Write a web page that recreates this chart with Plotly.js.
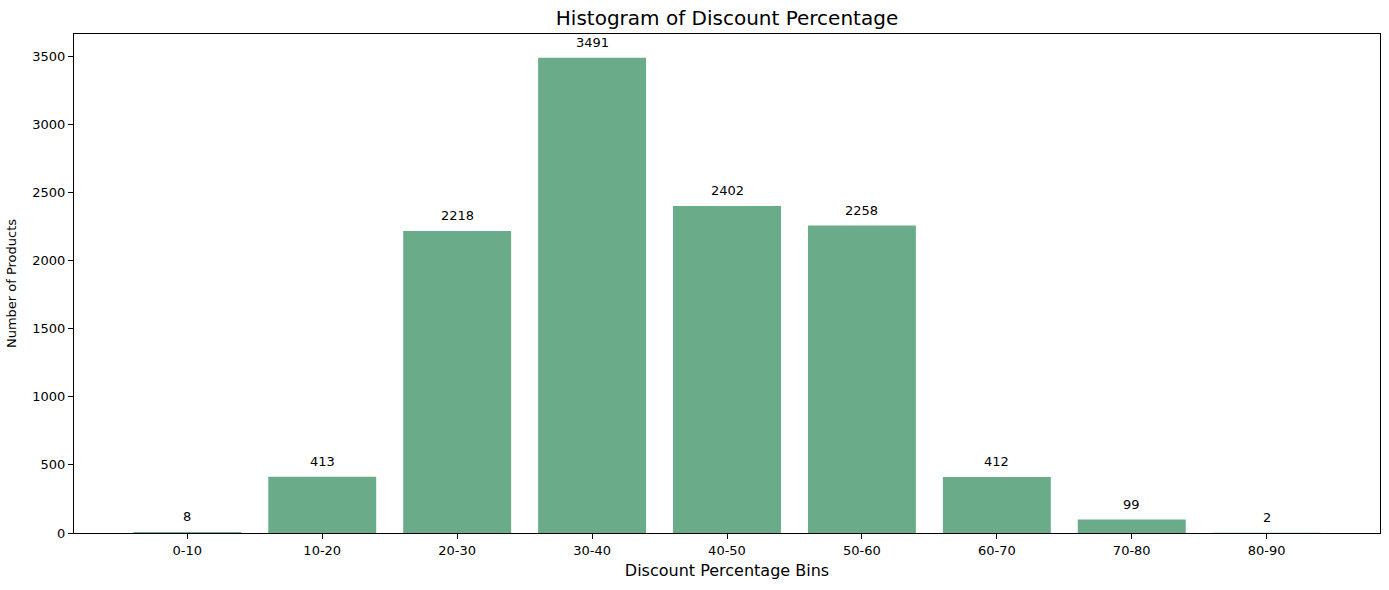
<!DOCTYPE html>
<html>
<head>
<meta charset="utf-8">
<script src="https://cdn.plot.ly/plotly-3.0.1.min.js"></script>
<style>
  html, body { margin: 0; padding: 0; background: #fff; }
  #chart { width: 1389px; height: 590px; }
</style>
</head>
<body>
<div id="chart"></div>
<script>
let bins = ['0-10', '10-20', '20-30', '30-40', '40-50', '50-60', '60-70', '70-80', '80-90'];
let counts = [8, 413, 2218, 3491, 2402, 2258, 412, 99, 2];

let barColor = 'rgb(106,172,138)';
let font = 'DejaVu Sans, sans-serif';

let barData = {
    x: bins,
    y: counts,
    type: 'bar',
    width: 0.8,
    marker: { color: barColor },
    hoverinfo: 'x+y'
};

// count labels above every bar
let labels = bins.map(function(b, i) {
    return {
        x: b,
        y: counts[i],
        text: String(counts[i]),
        showarrow: false,
        yanchor: 'bottom',
        yshift: 6,
        font: { family: font, size: 13, color: '#000' }
    };
});

let axisStyle = {
    showline: true,
    linecolor: '#000',
    linewidth: 1,
    mirror: true,
    ticks: 'outside',
    ticklen: 5,
    tickcolor: '#000',
    showgrid: false,
    zeroline: false,
    tickfont: { family: font, size: 13, color: '#000' }
};

let layout = {
    width: 1389,
    height: 590,
    margin: { l: 74, r: 9, t: 34, b: 57 },
    paper_bgcolor: '#fff',
    plot_bgcolor: '#fff',
    showlegend: false,
    bargap: 0.2,
    title: {
        text: 'Histogram of Discount Percentage',
        font: { family: font, size: 20, color: '#000' },
        x: 0.5 + (74 - 9) / 2 / 1389,
        xanchor: 'center',
        y: 1 - 18 / 590,
        yanchor: 'middle'
    },
    xaxis: Object.assign({}, axisStyle, {
        type: 'category',
        range: [-0.84, 8.84],
        title: {
            text: 'Discount Percentage Bins',
            font: { family: font, size: 16, color: '#000' },
            standoff: 8
        }
    }),
    yaxis: Object.assign({}, axisStyle, {
        range: [0, 3665.55],
        tickvals: [0, 500, 1000, 1500, 2000, 2500, 3000, 3500],
        title: {
            text: 'Number of Products',
            font: { family: font, size: 13, color: '#000' },
            standoff: 12
        }
    }),
    annotations: labels
};

Plotly.newPlot('chart', [barData], layout, { displayModeBar: false, staticPlot: true });
</script>
</body>
</html>
